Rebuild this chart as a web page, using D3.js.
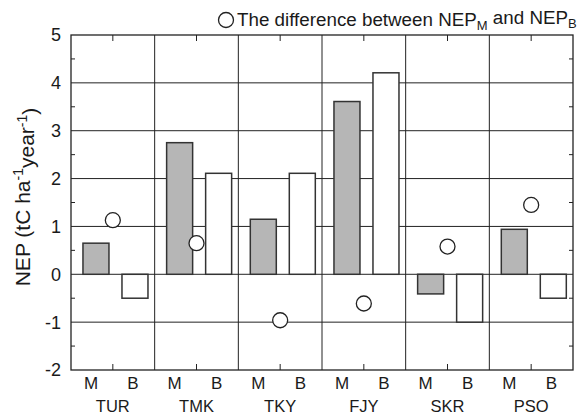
<!DOCTYPE html>
<html lang="en">
<head>
  <meta charset="UTF-8">
  <title>NEP by site</title>
  <style>
    body {
      margin: 0;
      background-color: white;
      overflow: hidden;
    }

    text {
      font-family: "Liberation Sans", Arial, sans-serif;
      fill: #1a1a1a;
    }

    .grid {
      stroke: #222;
      stroke-width: 1px;
    }

    .bar {
      stroke: #333;
      stroke-width: 1.5px;
    }

    .diff {
      fill: white;
      stroke: #222;
      stroke-width: 1.3px;
    }
  </style>
</head>
<body>
  <script src="https://d3js.org/d3.v7.min.js"></script>
  <script>
    const width = 581;
    const height = 416;
    const margin = {top: 35, right: 8, bottom: 46, left: 71};

    const sites = ["TUR", "TMK", "TKY", "FJY", "SKR", "PSO"];
    const methods = ["M", "B"];
    const nepM = [0.65, 2.75, 1.15, 3.61, -0.41, 0.94];
    const nepB = [-0.5, 2.11, 2.11, 4.21, -1.0, -0.5];
    const nepDiff = [1.13, 0.65, -0.96, -0.61, 0.58, 1.45];
    const yTicks = [-2, -1, 0, 1, 2, 3, 4, 5];

    const svg = d3.select("body").append("svg")
      .attr("width", width)
      .attr("height", height);

    const x0 = d3.scaleBand()
      .domain(sites)
      .range([margin.left, width - margin.right]);

    const gw = x0.bandwidth();

    const x1 = d3.scaleBand()
      .domain(methods)
      .range([gw * 0.143, gw * 0.92])
      .paddingInner(1 / 3);

    const y = d3.scaleLinear()
      .domain([-2, 5])
      .range([height - margin.bottom, margin.top]);

    // horizontal grid lines
    svg.append("g")
      .selectAll("line")
      .data(yTicks.filter(d => d > -2 && d < 5))
      .enter()
      .append("line")
      .attr("class", "grid")
      .attr("x1", margin.left)
      .attr("x2", width - margin.right)
      .attr("y1", d => y(d))
      .attr("y2", d => y(d));

    // vertical lines between sites
    svg.append("g")
      .selectAll("line")
      .data(sites.slice(1))
      .enter()
      .append("line")
      .attr("class", "grid")
      .attr("x1", d => x0(d))
      .attr("x2", d => x0(d))
      .attr("y1", margin.top)
      .attr("y2", height - margin.bottom);

    const rows = sites.map((s, i) => ({site: s, M: nepM[i], B: nepB[i], diff: nepDiff[i]}));

    // bars
    const groups = svg.append("g")
      .selectAll("g")
      .data(rows)
      .enter()
      .append("g")
      .attr("transform", d => "translate(" + x0(d.site) + ",0)");

    groups.selectAll("rect")
      .data(d => methods.map(m => ({method: m, value: d[m]})))
      .enter()
      .append("rect")
      .attr("class", "bar")
      .attr("x", d => x1(d.method))
      .attr("width", x1.bandwidth())
      .attr("y", d => y(Math.max(0, d.value)))
      .attr("height", d => Math.abs(y(d.value) - y(0)))
      .attr("fill", d => d.method === "M" ? "#b6b6b6" : "white");

    // difference circles
    svg.append("g")
      .selectAll("circle")
      .data(rows)
      .enter()
      .append("circle")
      .attr("class", "diff")
      .attr("cx", d => x0(d.site) + gw / 2)
      .attr("cy", d => y(d.diff))
      .attr("r", 7.5);

    // frame
    svg.append("rect")
      .attr("x", margin.left)
      .attr("y", margin.top)
      .attr("width", width - margin.left - margin.right)
      .attr("height", height - margin.top - margin.bottom)
      .attr("fill", "none")
      .attr("stroke", "#222")
      .attr("stroke-width", 1.3);

    // minor ticks on left and right
    const minor = d3.range(-1.5, 5, 1);
    const tickG = svg.append("g").attr("stroke", "#222").attr("stroke-width", 1);
    minor.forEach(v => {
      tickG.append("line")
        .attr("x1", margin.left).attr("x2", margin.left + 4)
        .attr("y1", y(v)).attr("y2", y(v));
      tickG.append("line")
        .attr("x1", width - margin.right).attr("x2", width - margin.right - 4)
        .attr("y1", y(v)).attr("y2", y(v));
    });

    // ticks at site centres, top and bottom
    sites.forEach(s => {
      const cx = x0(s) + gw / 2;
      tickG.append("line")
        .attr("x1", cx).attr("x2", cx)
        .attr("y1", margin.top).attr("y2", margin.top + 6);
      tickG.append("line")
        .attr("x1", cx).attr("x2", cx)
        .attr("y1", height - margin.bottom).attr("y2", height - margin.bottom - 6);
    });

    // y tick labels
    svg.append("g")
      .selectAll("text")
      .data(yTicks)
      .enter()
      .append("text")
      .attr("x", margin.left - 10)
      .attr("y", d => y(d))
      .attr("dy", "0.36em")
      .attr("text-anchor", "end")
      .style("font-size", "18px")
      .text(d => d);

    // M / B labels
    groups.selectAll("text.method")
      .data(methods)
      .enter()
      .append("text")
      .attr("class", "method")
      .attr("x", d => x1(d) + x1.bandwidth() / 2 + (d === "M" ? -5 : -2))
      .attr("y", height - margin.bottom + 19)
      .attr("text-anchor", "middle")
      .style("font-size", "17px")
      .text(d => d);

    // site labels
    groups.append("text")
      .attr("x", gw / 2)
      .attr("y", height - 4)
      .attr("text-anchor", "middle")
      .style("font-size", "16.5px")
      .text(d => d.site);

    // y axis title
    const yt = svg.append("text")
      .attr("transform", "translate(30," + 197 + ") rotate(-90)")
      .attr("text-anchor", "middle")
      .style("font-size", "21px");
    yt.append("tspan").text("NEP (tC ha");
    yt.append("tspan").attr("dy", "-0.5em").style("font-size", "14px").text("-1");
    yt.append("tspan").attr("dy", "0.5em").text("year");
    yt.append("tspan").attr("dy", "-0.5em").style("font-size", "14px").text("-1");
    yt.append("tspan").attr("dy", "0.5em").text(")");

    // legend
    svg.append("circle")
      .attr("class", "diff")
      .attr("cx", 226)
      .attr("cy", 20)
      .attr("r", 7.5);

    const lg = svg.append("text")
      .attr("x", 237)
      .attr("y", 26)
      .style("font-size", "18.8px");
    lg.append("tspan").text("The difference between NEP");
    lg.append("tspan").attr("dy", "0.3em").style("font-size", "13px").text("M");
    lg.append("tspan").attr("dy", "-0.3em").text(" and NEP");
    lg.append("tspan").attr("dy", "0.3em").style("font-size", "13px").text("B");
  </script>
</body>
</html>
